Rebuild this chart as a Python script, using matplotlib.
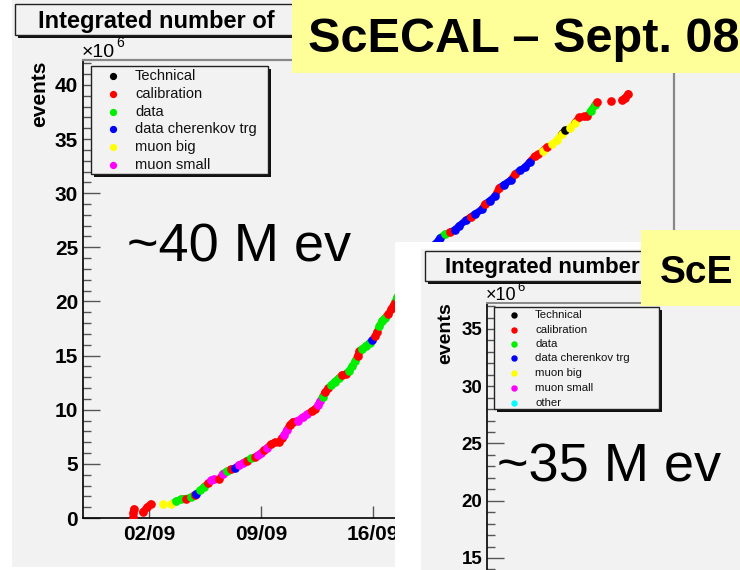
import matplotlib
matplotlib.use("Agg")
import matplotlib.pyplot as plt
from matplotlib.patches import Rectangle
from matplotlib.lines import Line2D
from matplotlib.ticker import MultipleLocator

plt.rcParams['font.family'] = ['Liberation Sans', 'DejaVu Sans']

# ---------------- data (days of September 2008, integrated events x1e6) -------------
run_day = [1.0, 1.0, 1.05, 1.6, 1.9, 2.1,
           2.9, 3.4,
           3.7, 4.0, 4.3, 4.6, 4.85, 4.95, 5.2, 5.45, 5.7, 5.9, 6.05, 6.4, 6.6, 6.85,
           7.1, 7.4, 7.6, 7.9, 8.1, 8.4, 8.6, 8.8, 9.0, 9.2, 9.4, 9.6, 9.85, 10.1,
           10.3, 10.45, 10.6, 10.8, 11.0, 11.3, 11.6, 11.9, 12.2, 12.4, 12.55, 12.7,
           12.85, 13.0, 13.2, 13.4, 13.6, 13.85, 14.05, 14.3, 14.5, 14.7, 14.9, 15.05,
           15.15, 15.3, 15.55, 15.8, 15.95, 16.15, 16.25, 16.4, 16.55, 16.75, 16.95,
           17.15, 17.35, 17.5, 17.8, 18.1, 18.4, 18.7, 19.0, 19.3, 19.6, 19.9,
           20.2, 20.5, 20.8, 21.1, 21.4, 21.8, 22.1, 22.4, 22.8, 23.0, 23.3, 23.6,
           23.9, 24.2, 24.6, 24.9, 25.2, 25.5, 25.8, 26.1, 26.3, 26.6, 26.9, 27.2,
           27.5, 27.8, 28.0, 28.3, 28.6, 28.9, 29.2, 29.4, 29.6, 29.85, 30.0,
           30.9, 31.55, 31.75, 31.95]
run_events = [0.05, 0.45, 0.85, 0.55, 1.0, 1.3,
              1.3, 1.3,
              1.55, 1.75, 1.8, 1.9, 2.15, 2.25, 2.55, 2.9, 3.2, 3.5, 3.6, 3.6, 4.1, 4.3,
              4.5, 4.6, 4.9, 5.1, 5.3, 5.5, 5.6, 5.8, 6.0, 6.3, 6.5, 6.8, 7.0, 7.0,
              7.4, 7.7, 8.1, 8.6, 8.9, 9.0, 9.3, 9.6, 9.9, 10.1, 10.4, 10.8,
              11.2, 11.6, 12.0, 12.3, 12.6, 12.9, 13.2, 13.3, 13.6, 14.0, 14.5, 15.0,
              15.4, 15.6, 15.9, 16.2, 16.4, 16.8, 17.2, 17.7, 18.2, 18.5, 18.8,
              19.3, 19.9, 20.4, 21.0, 21.6, 22.2, 22.8, 23.5, 24.1, 24.7, 25.3,
              25.9, 26.2, 26.4, 26.6, 27.0, 27.5, 27.8, 28.1, 28.5, 29.0, 29.3, 29.7,
              30.5, 30.8, 31.2, 31.8, 32.1, 32.4, 32.9, 33.4, 33.6, 33.9, 34.3, 34.5,
              34.9, 35.5, 35.8, 36.0, 36.5, 37.0, 37.1, 37.1, 37.6, 38.1, 38.4,
              38.5, 38.6, 38.8, 39.2]
run_type = ['C', 'C', 'C', 'C', 'C', 'C',
            'Y', 'Y',
            'D', 'D', 'C', 'D', 'C', 'B', 'D', 'D', 'C', 'M', 'M', 'C', 'M', 'D',
            'C', 'B', 'M', 'M', 'C', 'D', 'C', 'M', 'M', 'C', 'M', 'C', 'C', 'C',
            'C', 'M', 'M', 'C', 'C', 'M', 'M', 'M', 'C', 'C', 'M', 'M',
            'D', 'C', 'C', 'D', 'D', 'D', 'C', 'C', 'D', 'D', 'D', 'C',
            'C', 'D', 'D', 'D', 'B', 'C', 'C', 'D', 'D', 'D', 'C',
            'C', 'C', 'D', 'C', 'D', 'B', 'C', 'B', 'B', 'C', 'B',
            'B', 'D', 'C', 'B', 'B', 'B', 'C', 'B', 'B', 'C', 'B', 'B',
            'C', 'B', 'B', 'C', 'B', 'B', 'B', 'C', 'C', 'Y', 'C', 'Y',
            'Y', 'Y', 'T', 'Y', 'Y', 'C', 'C', 'C', 'D', 'D', 'C',
            'C', 'C', 'C', 'C']

type_codes = ['T', 'C', 'D', 'B', 'Y', 'M']
type_names = ['Technical', 'calibration', 'data', 'data cherenkov trg', 'muon big', 'muon small']
type_colors = ['black', '#ff0000', '#00ee00', '#0000ff', '#ffff00', '#ff00ff']
inset_names = type_names + ['other']
inset_colors = type_colors + ['#00ffff']

date_ticks = [2, 9, 16, 23, 30]
date_labels = ['02/09', '09/09', '16/09', '23/09', '30/09']
main_yticks = [0, 5, 10, 15, 20, 25, 30, 35, 40]
inset_yticks = [15, 20, 25, 30, 35]

# ---------------- layout helpers (pixel -> figure fraction) ----------------
W, H = 740, 570
GRAY = '#f2f2f2'
YELLOW = '#ffff99'


def fx(x):
    return x / W


def fy(y):
    return 1 - y / H


def rect_px(x0, y0, x1, y1):
    return [x0 / W, 1 - y1 / H, (x1 - x0) / W, (y1 - y0) / H]


fig = plt.figure(figsize=(7.4, 5.7), dpi=100, facecolor='white')


def add_rect(x0, y0, x1, y1, fc, ec='none', lw=0, z=0):
    r = Rectangle((fx(x0), fy(y1)), (x1 - x0) / W, (y1 - y0) / H,
                  transform=fig.transFigure, facecolor=fc, edgecolor=ec,
                  linewidth=lw, zorder=z)
    fig.add_artist(r)
    return r


def add_text(x, y, s, z, **kw):
    return fig.text(fx(x), fy(y), s, zorder=z, **kw)


def add_box(x0, y0, x1, y1, z, shadow=3):
    add_rect(x0 + shadow, y0 + shadow, x1 + shadow, y1 + shadow, '#111111', z=z)
    add_rect(x0, y0, x1, y1, GRAY, ec='#222222', lw=1.0, z=z + 0.01)


def add_legend(x0, y0, x1, y1, rows_y, dot_x, text_x, names, colors, fs, ms, z):
    add_box(x0, y0, x1, y1, z)
    for yy, nm, col in zip(rows_y, names, colors):
        fig.add_artist(Line2D([fx(dot_x)], [fy(yy)], marker='o', linestyle='none',
                              markersize=ms, markerfacecolor=col, markeredgecolor=col,
                              transform=fig.transFigure, zorder=z + 0.02))
        add_text(text_x, yy, nm, z + 0.02, fontsize=fs, va='center', ha='left',
                 color='#111111')


# main canvas background
add_rect(12, 0, 740, 567, GRAY, z=-10)

# ---------------- main axes ----------------
ax = fig.add_axes(rect_px(83, 60, 674, 518), zorder=0)
ax.set_facecolor('none')
ax.set_xlim(-2.125, 34.81)
ax.set_ylim(0, 42.3)

color_of = dict(zip(type_codes, type_colors))
for i in range(1, len(run_day)):
    if run_day[i] - run_day[i - 1] <= 0.45:
        ax.plot([run_day[i - 1], run_day[i]], [run_events[i - 1], run_events[i]],
                color=color_of[run_type[i]], lw=5, solid_capstyle='round', zorder=2)
for d, v, t in zip(run_day, run_events, run_type):
    ax.plot([d], [v], 'o', color=color_of[t], markersize=5.2, zorder=3)

ax.set_xticks(date_ticks, date_labels)
ax.set_yticks(main_yticks)
ax.yaxis.set_minor_locator(MultipleLocator(1))
ax.tick_params(axis='x', direction='in', length=8.6, width=1, color='#555555',
               labelsize=15, pad=5)
ax.tick_params(axis='y', which='major', direction='in', length=12.2, width=1,
               color='#555555', labelsize=15, pad=3.5)
ax.tick_params(axis='y', which='minor', direction='in', length=5.8, width=1,
               color='#555555')
for lbl in ax.get_xticklabels() + ax.get_yticklabels():
    lbl.set_fontweight('bold')
for s in ('left', 'bottom'):
    ax.spines[s].set_color('black')
    ax.spines[s].set_linewidth(1.2)
for s in ('top', 'right'):
    ax.spines[s].set_color('#888888')
    ax.spines[s].set_linewidth(1.6)

add_text(40, 94, 'events', 1, rotation=90, fontsize=15, fontweight='bold',
         ha='center', va='center')
add_text(82, 57, '\u00d710', 1, fontsize=14, ha='left', va='baseline')
add_text(116, 47, '6', 1, fontsize=10, ha='left', va='baseline')

# main title box (the slide's yellow label covers its right part)
add_box(15, 4, 420, 35, 1)
add_text(38, 28, 'Integrated number of', 1.05, fontsize=17, fontweight='bold',
         ha='left', va='baseline')

# main legend
add_legend(91, 66, 268, 174, [76, 94, 112, 129, 147, 165], 113, 135,
           type_names, type_colors, 10.5, 4.2, 1)

add_text(127, 261, '~40 M ev', 1.1, fontsize=39, ha='left', va='baseline')

# ---------------- inset panel ----------------
add_rect(395, 242, 740, 570, 'white', z=2)
add_rect(421, 249, 740, 570, GRAY, z=2.1)

ax2 = fig.add_axes(rect_px(487, 303, 800, 620), zorder=3)
ax2.set_facecolor('none')
ax2.set_ylim(9.58, 37.27)
ax2.set_xlim(0, 1)
ax2.set_xticks([])
ax2.set_yticks(inset_yticks)
ax2.yaxis.set_minor_locator(MultipleLocator(1))
ax2.tick_params(axis='y', which='major', direction='in', length=12.2, width=1,
                color='#555555', labelsize=13.5, pad=3.5)
ax2.tick_params(axis='y', which='minor', direction='in', length=5.8, width=1,
                color='#555555')
for lbl in ax2.get_yticklabels():
    lbl.set_fontweight('bold')
ax2.spines['left'].set_color('black')
ax2.spines['left'].set_linewidth(1.2)
ax2.spines['top'].set_color('#888888')
ax2.spines['top'].set_linewidth(1.4)

add_text(446, 333, 'events', 3.5, rotation=90, fontsize=14, fontweight='bold',
         ha='center', va='center')
add_text(486, 300, '\u00d710', 3.5, fontsize=13, ha='left', va='baseline')
add_text(517, 291, '6', 3.5, fontsize=9.5, ha='left', va='baseline')

add_box(425, 251, 700, 281, 3.5)
add_text(445, 273, 'Integrated number', 3.6, fontsize=16, fontweight='bold',
         ha='left', va='baseline')

add_legend(494, 307, 659, 409, [315, 330, 344, 358, 373, 388, 403], 514, 535,
           inset_names, inset_colors, 8.2, 3.6, 3.6)

add_text(497, 482, '~35 M ev', 3.8, fontsize=39, ha='left', va='baseline')

# ---------------- yellow labels ----------------
add_rect(292, 0, 740, 73, YELLOW, z=5)
add_text(308, 52, 'ScECAL \u2013 Sept. 08', 5.1, fontsize=35, fontweight='bold',
         ha='left', va='baseline')
add_rect(641, 230, 740, 306, YELLOW, z=5)
add_text(660, 283, 'ScE', 5.1, fontsize=28, fontweight='bold', ha='left',
         va='baseline')

fig.savefig('out.png', dpi=100, facecolor='white')
